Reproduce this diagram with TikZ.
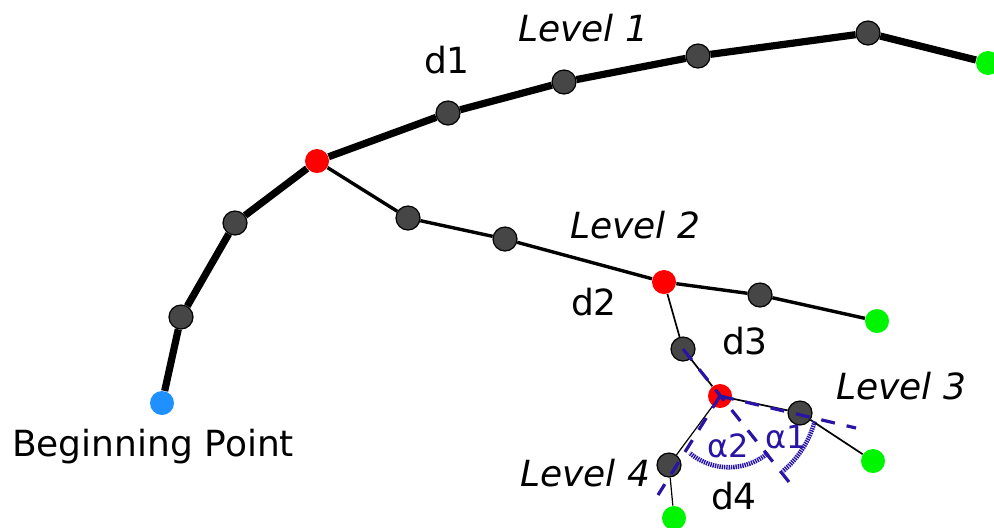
\documentclass[tikz,border=0pt]{standalone}
\usepackage{fontspec}
\setmainfont{DejaVu Sans}
\definecolor{grisnodo}{RGB}{70,70,70}
\definecolor{verdehoja}{RGB}{0,245,0}
\definecolor{azulini}{RGB}{30,144,255}
\definecolor{azulang}{RGB}{40,20,165}

\begin{document}
\begin{tikzpicture}[x=0.5pt,y=-0.5pt,
  every node/.style={font=\fontsize{18}{22}\selectfont},
  pto/.style={circle,inner sep=0pt,minimum size=12pt},
  gris/.style={pto,draw=black,line width=0.6pt,fill=grisnodo},
  rojo/.style={pto,fill=red},
  hoja/.style={pto,fill=verdehoja},
  nivel/.style={font=\fontsize{18}{22}\selectfont\itshape},
  ang/.style={text=azulang,font=\fontsize{16}{19}\selectfont},
  l1/.style={line width=3.6pt},
  l2/.style={line width=1.7pt},
  l3/.style={line width=0.85pt},
  l4/.style={line width=0.6pt},
  guia/.style={azulang,line width=1.6pt,dash pattern=on 7pt off 6pt},
  arco/.style={azulang,line width=2.3pt,dash pattern=on 0.7pt off 0.45pt}]
  \path[use as bounding box,fill=white] (0,0) rectangle (994,527);
  % puntos del arbol
  \node[pto,fill=azulini] (ini) at (162,403){};
  \node[gris] (p1) at (181,317){};
  \node[gris] (p2) at (235,223){};
  \node[rojo] (r1) at (317,161){};
  \node[gris] (n11) at (448,113){};
  \node[gris] (n12) at (564,82){};
  \node[gris] (n13) at (698,56){};
  \node[gris] (n14) at (868,33){};
  \node[hoja] (f1) at (988,63){};
  \node[gris] (n21) at (408,218){};
  \node[gris] (n22) at (505,239){};
  \node[rojo] (r2) at (664,282){};
  \node[gris] (n23) at (760,295){};
  \node[hoja] (f2) at (877,321){};
  \node[gris] (n31) at (683,349){};
  \node[rojo] (r3) at (720,396){};
  \node[gris] (n32) at (800,413){};
  \node[hoja] (f3) at (873,461){};
  \node[gris] (n41) at (669,465){};
  \node[hoja] (f4) at (674,518){};
  % ramas
  \draw[l1] (ini)--(p1)--(p2)--(r1)--(n11)--(n12)--(n13)--(n14)--(f1);
  \draw[l2] (r1)--(n21)--(n22)--(r2)--(n23)--(f2);
  \draw[l3] (r2)--(n31)--(r3)--(n32)--(f3);
  \draw[l4] (r3)--(n41)--(f4);
  % direcciones y angulos
  \coordinate (e1) at (793,487);
  \coordinate (e2) at (856,428);
  \coordinate (e3) at (658,495);
  \draw[guia] (n31.center)--(e1);
  \draw[guia] (r3.center)--(e2);
  \draw[guia] (r3.center)--(e3);
  \draw[arco] (r3.center) ++(15:98) arc[start angle=15,end angle=50,radius=98];
  \draw[arco] (768,453) arc[start angle=50,end angle=130,radius=61];
  \node[ang] (a1) at (786,437){α1};
  \node[ang] (a2) at (728,446){α2};
  % textos
  \node[nivel] (t1) at (583,28){Level 1};
  \node[nivel] (t2) at (635,225){Level 2};
  \node[nivel] (t3) at (901,386){Level 3};
  \node[nivel] (t4) at (585,473){Level 4};
  \node (d1) at (447,60){d1};
  \node (d2) at (594,302){d2};
  \node (d3) at (745,341){d3};
  \node (d4) at (734,496){d4};
  \node (tini) at (153,447){Beginning Point};
\end{tikzpicture}
\end{document}
